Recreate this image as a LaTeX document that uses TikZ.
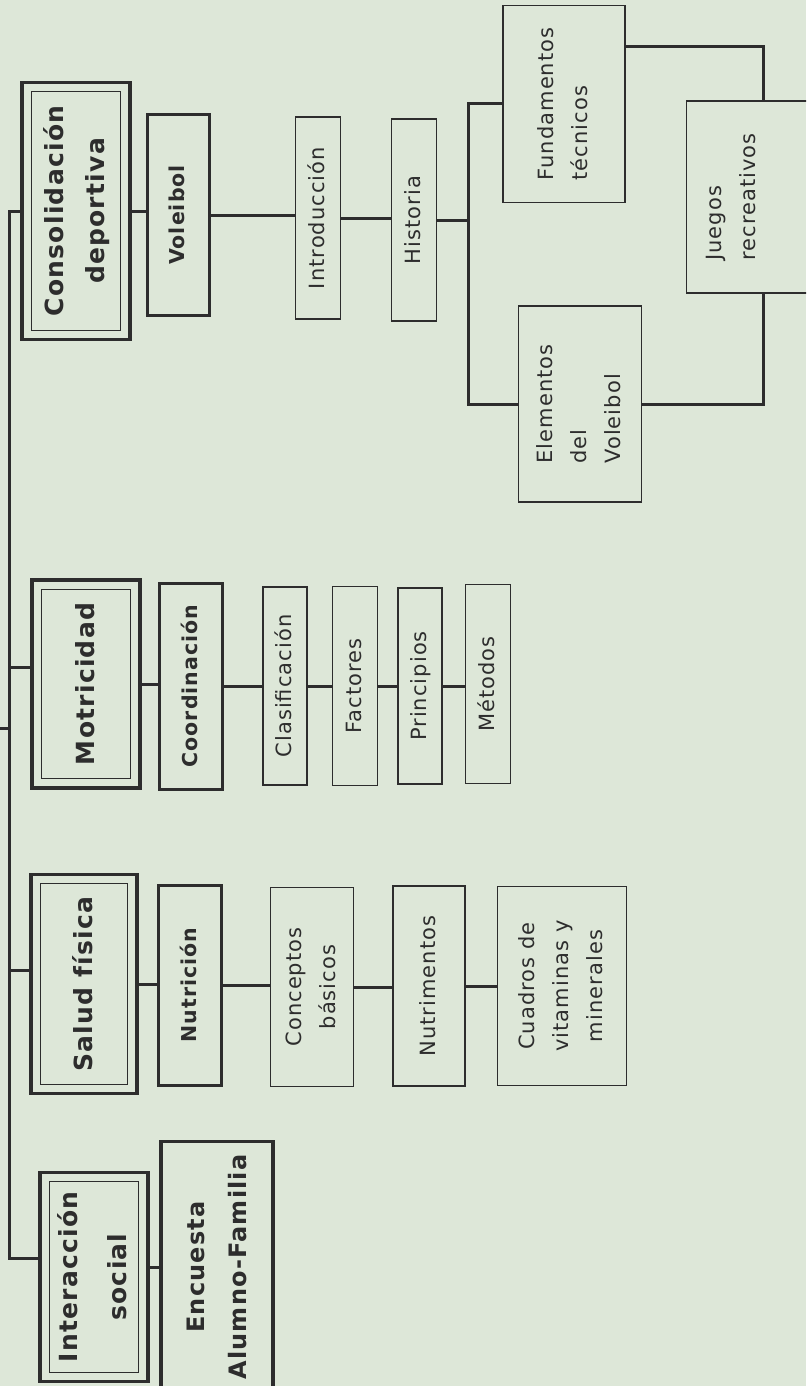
\documentclass[tikz,border=0pt]{standalone}
\usepackage{graphicx}
\usepackage{fontspec}
\setmainfont{DejaVu Sans}
\newfontfamily\headfont[LetterSpace=5]{DejaVu Sans}
\newfontfamily\leaffont[LetterSpace=5]{DejaVu Sans}
\definecolor{paper}{RGB}{221,231,216}
\definecolor{ink}{RGB}{45,45,45}
\newcommand{\vlabel}[2][c]{\rotatebox{90}{\begin{tabular}{@{}#1@{}}#2\end{tabular}}}

\begin{document}
\begin{tikzpicture}[x=1pt,y=-1pt]
  \tikzstyle{topbox}=[draw=ink, line width=3.5pt, inner sep=0pt, text=ink, font=\headfont\bfseries\fontsize{25}{41}\selectfont]
  \tikzstyle{midbox}=[draw=ink, line width=3pt, inner sep=0pt, text=ink, font=\headfont\bfseries\fontsize{20.5}{30}\selectfont]
  \tikzstyle{leafbox}=[draw=ink, line width=1.6pt, inner sep=0pt, text=ink, font=\leaffont\fontsize{21}{34}\selectfont]
  \tikzstyle{frame}=[draw=ink, line width=1.4pt]
  \tikzstyle{link}=[draw=ink, line width=3pt]

  \useasboundingbox (0,0) rectangle (806,1386);
  \clip (0,0) rectangle (806,1386);
  \fill[paper] (0,0) rectangle (806,1386);

  \node[topbox, minimum width=108, minimum height=257] (cons) at (76,211) {\vlabel{Consolidación\\deportiva}};
  \node[midbox, minimum width=62, minimum height=200] (volei) at (178,215) {\vlabel{Voleibol}};
  \node[leafbox, minimum width=45, minimum height=202] (intro) at (318,218) {\vlabel{Introducción}};
  \node[leafbox, minimum width=45, minimum height=202] (hist) at (414,220) {\vlabel{Historia}};
  \node[leafbox, minimum width=122, minimum height=197] (fund) at (564,104) {\vlabel[l]{Fundamentos\\técnicos}};
  \node[leafbox, minimum width=123, minimum height=196] (elem) at (580,404) {\vlabel[l]{Elementos\\del\\Voleibol}};
  \node[leafbox, minimum width=123, minimum height=192] (juegos) at (748,197) {\hspace*{-32pt}\vlabel[l]{Juegos\\recreativos}};

  \node[topbox, minimum width=108, minimum height=208] (motr) at (86,684) {\vlabel{Motricidad}};
  \node[midbox, minimum width=63, minimum height=206] (coord) at (191,686) {\vlabel{Coordinación}};
  \node[leafbox, minimum width=44, minimum height=198] (clas) at (285,686) {\vlabel{Clasificación}};
  \node[leafbox, minimum width=45, minimum height=199] (fact) at (355,686) {\vlabel{Factores}};
  \node[leafbox, minimum width=44, minimum height=196] (princ) at (420,686) {\vlabel{Principios}};
  \node[leafbox, minimum width=45, minimum height=199] (metod) at (488,684) {\vlabel{Métodos}};

  \node[topbox, minimum width=106, minimum height=219] (salud) at (84,984) {\vlabel{Salud física}};
  \node[midbox, minimum width=63, minimum height=200] (nutri) at (190,985) {\vlabel{Nutrición}};
  \node[leafbox, minimum width=83, minimum height=199] (conc) at (312,987) {\vlabel{Conceptos\\básicos}};
  \node[leafbox, minimum width=72, minimum height=200] (nutrim) at (429,986) {\vlabel{Nutrimentos}};
  \node[leafbox, minimum width=129, minimum height=199] (cuad) at (562,986) {\vlabel{Cuadros de\\vitaminas y\\minerales}};

  \node[topbox, minimum width=108, minimum height=209] (inter) at (94,1277) {\vlabel{Interacción\\[8pt]social}};
  \node[topbox, minimum width=112, minimum height=251, font=\headfont\bfseries\fontsize{24}{42}\selectfont] (enc) at (217,1267) {\vlabel{Encuesta\\Alumno-Familia}};

  \foreach \n in {cons,motr,salud,inter}
    \draw[frame] ([shift={(11,11)}]\n.north west) rectangle ([shift={(-11,-11)}]\n.south east);

  \coordinate (busend) at (9,1258);
  \coordinate (parent) at (0,728);
  \coordinate (mjoin) at (9,667);
  \coordinate (sjoin) at (9,970);
  \coordinate (br) at (468,220);
  \coordinate (jx) at (763,47);

  \draw[link] (cons.west) -| (busend) -- (busend -| inter.west);
  \draw[link] (parent) -- (parent -| busend);
  \draw[link] (mjoin) -- (mjoin -| motr.west);
  \draw[link] (sjoin) -- (sjoin -| salud.west);
  \draw[link] (enc.west) -- (enc.west -| inter.east);

  \foreach \a/\b in {cons/volei, volei/intro, intro/hist, motr/coord, coord/clas, clas/fact, fact/princ, princ/metod, salud/nutri, nutri/conc, conc/nutrim, nutrim/cuad}
    \draw[link] (\a.east) -- (\a.east -| \b.west);

  \draw[link] (hist.east) -- (br);
  \draw[link] (fund.west) -| (br) |- (elem.west);
  \draw[link] (fund.east |- jx) -| (juegos.north -| jx);
  \draw[link] (juegos.south -| jx) |- (elem.east);
\end{tikzpicture}
\end{document}
